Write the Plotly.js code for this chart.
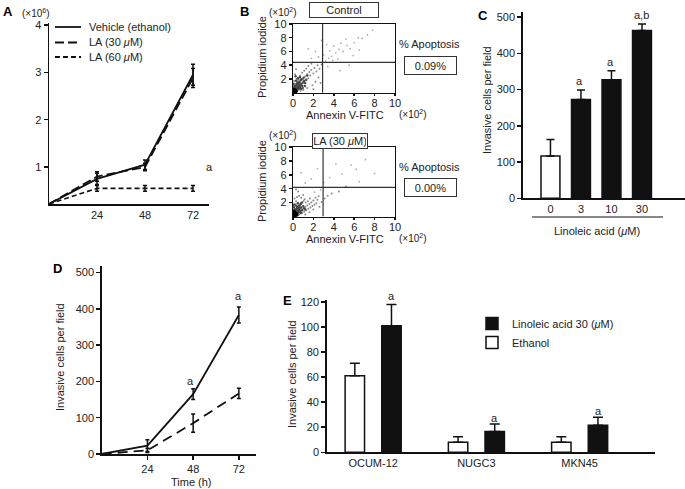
<!DOCTYPE html>
<html><head><meta charset="utf-8">
<script src="https://cdn.plot.ly/plotly-3.0.1.min.js"></script>
<style>html,body{margin:0;padding:0;background:#fff}#chart{width:685px;height:489px}</style>
</head><body><div id="chart"></div>
<script>
// ---------- Panel A: cell number (x10^6) ----------
const hoursA = [0, 24, 48, 72];
const vehicleA = [0.22, 0.75, 1.05, 2.95];
const vehicleErrA = [0, 0.12, 0.1, 0.22];
const la30A = [0.22, 0.8, 1.0, 2.88];
const la30ErrA = [0, 0.1, 0.08, 0.2];
const la60A = [0.22, 0.55, 0.55, 0.55];
const la60ErrA = [0, 0.06, 0.06, 0.06];
const namesA = ['Vehicle (ethanol)', 'LA (30 <i>μ</i>M)', 'LA (60 <i>μ</i>M)'];

// ---------- Panel B: flow cytometry (x10^2) ----------
const ctrlX = [0.05,0.1,0.15,0.2,0.08,0.25,0.3,0.12,0.35,0.4,0.18,0.45,0.5,0.22,0.55,0.6,0.3,0.65,0.7,0.4,0.8,0.85,0.5,0.9,1.0,0.6,1.1,1.2,0.7,1.3,1.4,0.9,1.5,1.6,1.1,1.7,1.8,1.3,2.0,2.1,1.5,2.3,2.4,1.8,2.6,2.8,0.2,0.3,1.0,1.4,1.9,2.2,2.5,0.1,0.75,1.2,0.05,0.35,2.0,2.7];
const ctrlY = [0.1,0.2,0.05,0.3,0.4,0.15,0.5,0.6,0.25,0.7,0.8,0.4,0.9,1.0,0.6,1.2,1.3,0.8,1.5,1.6,1.0,1.8,1.9,1.3,2.0,2.2,1.5,2.4,2.5,1.8,2.7,2.9,2.1,3.0,3.2,2.5,3.3,3.5,2.8,3.6,3.9,3.1,4.0,4.2,3.5,4.1,2.7,3.4,0.4,0.7,1.1,1.6,2.2,1.7,0.3,0.9,0.7,2.0,0.5,1.4];
const ctrlSparseX = [3.2,3.5,3.0,3.8,4.2,3.6,4.5,4.9,4.0,5.3,5.6,4.7,6.0,5.2,6.4,3.3,2.5,2.2,1.8,5.9,6.8,7.3,4.4,3.9,1.5,2.8,6.5,7.8,3.4,4.6,5.5,2.9];
const ctrlSparseY = [4.6,5.0,5.5,5.3,5.8,6.1,6.3,6.0,6.8,6.9,6.4,7.2,7.3,7.8,8.0,7.0,5.2,6.0,5.0,5.4,7.9,8.4,4.9,4.7,6.4,7.6,6.2,9.1,3.8,3.2,4.0,4.4];
const ctrlDenseX = [0.05,0.1,0.15,0.08,0.2,0.12,0.25,0.05,0.18,0.3,0.1,0.22,0.35,0.4,0.28,0.45,0.5,0.15,0.55,0.6,0.32,0.65,0.7,0.42,0.8,0.9,0.5,1.0,0.62,1.1,0.75,1.2,0.85,1.3,0.2,0.38,0.58,0.78,0.95,0.1,0.3,0.48,0.68,0.05,0.25,1.05,1.4,1.15];
const ctrlDenseY = [0.05,0.1,0.15,0.2,0.08,0.3,0.12,0.35,0.25,0.2,0.45,0.4,0.55,0.3,0.65,0.5,0.75,0.7,0.9,0.6,0.95,1.1,0.8,1.2,1.3,1.0,1.45,1.5,1.6,1.7,1.85,1.4,2.0,1.9,1.05,1.35,1.25,0.55,0.7,0.9,1.75,2.1,2.3,1.3,2.4,2.2,2.5,1.0];
const ctrlCoreX = [0.05,0.1,0.15,0.08,0.2,0.12,0.25,0.05,0.18,0.3,0.1,0.22];
const ctrlCoreY = [0.05,0.1,0.15,0.2,0.08,0.3,0.12,0.35,0.25,0.2,0.45,0.4];
const laX = [0.05,0.1,0.2,0.15,0.3,0.25,0.4,0.35,0.5,0.45,0.6,0.55,0.7,0.65,0.8,0.75,0.9,0.85,1.0,0.95,1.1,1.05,1.2,1.15,1.3,1.25,1.4,1.5,1.45,1.6,1.7,1.65,1.8,1.9,2.0,2.1,2.2,2.3,2.4,2.5,0.1,0.2,0.3,0.15,0.4,0.6,0.8,1.0,1.2,1.6,2.0,2.6,2.8,3.1,3.4,3.8,4.5,5.2,0.5,0.3];
const laY = [0.1,0.3,0.1,0.5,0.2,0.7,0.4,0.9,0.6,1.1,0.3,1.3,0.8,1.5,1.0,1.7,0.5,1.9,1.2,2.1,0.7,2.3,1.4,2.5,0.9,2.0,1.6,1.1,2.2,1.8,1.3,2.6,2.0,1.5,2.3,1.7,2.7,1.9,2.4,2.9,1.4,1.8,2.2,2.6,2.8,3.0,2.7,3.1,0.3,0.6,1.0,1.4,2.1,2.6,3.0,3.3,3.6,4.3,3.6,3.9];
const laSparseX = [1.2,1.8,0.8,2.4,3.6,4.8,6.2,5.7,7.1,3.0,6.5,4.2,8.0,2.1,2.7];
const laSparseY = [4.8,5.4,6.3,6.9,5.6,6.1,6.8,7.4,8.2,4.9,5.0,7.6,6.2,3.5,3.8];
const laDenseX = [0.05,0.1,0.15,0.08,0.2,0.12,0.25,0.05,0.18,0.3,0.1,0.22,0.35,0.4,0.28,0.45,0.5,0.15,0.55,0.6,0.32,0.65,0.7,0.42,0.8,0.9,0.5,1.0,0.62,1.1,0.75,1.2,0.85,0.2,0.38,0.58,0.78,0.1,0.3,0.48,0.05,0.25,0.15,0.35,0.08,0.45];
const laDenseY = [0.05,0.1,0.2,0.3,0.08,0.4,0.15,0.5,0.3,0.2,0.6,0.45,0.55,0.3,0.7,0.5,0.8,0.85,0.95,0.6,1.0,1.1,0.75,1.2,1.3,0.9,1.4,1.5,1.6,1.2,1.8,1.0,2.0,1.05,1.35,1.25,0.5,1.3,1.6,1.9,0.9,0.25,0.05,0.1,1.7,0.15];
const laCoreX = [0.05,0.1,0.15,0.08,0.2,0.12,0.25,0.05,0.18,0.3,0.1,0.22,0.35,0.15];
const laCoreY = [0.05,0.1,0.15,0.25,0.08,0.35,0.18,0.45,0.3,0.2,0.6,0.5,0.4,0.7];
const gateCtrl = [2.9, 4.4];
const gateLA = [2.95, 4.2];
const apoptosis = ['0.09%', '0.00%'];

// ---------- Panel C: invasion vs LA dose ----------
const dosesC = ['0', '3', '10', '30'];
const invC = [117, 273, 327, 463];
const errC = [45, 26, 25, 18];

// ---------- Panel D: invasion time course ----------
const hoursD = [0, 24, 48, 72];
const laD = [0, 23, 165, 383];
const laErrD = [0, 16, 15, 22];
const ethD = [0, 10, 85, 167];
const ethErrD = [0, 6, 25, 14];

// ---------- Panel E: cell lines ----------
const cellsE = ['OCUM-12', 'NUGC3', 'MKN45'];
const ethE = [61, 8, 8];
const ethErrE = [10, 4.5, 4.5];
const laE = [101, 16.5, 21.5];
const laErrE = [17, 6, 6.5];

// ---------- helpers ----------
const W = 685, H = 489;
const X = p => p / W;
const Y = p => 1 - p / H;
const INK = '#111';
const FONT = 'Liberation Sans, Arial, Helvetica, sans-serif';
function ax(extra) {
  return Object.assign({showline:true, linecolor:INK, linewidth:1.5, showgrid:false, zeroline:false,
    ticks:'outside', ticklen:4, tickwidth:1.5, tickcolor:INK, tickfont:{size:11, color:'#222'},
    fixedrange:true}, extra);
}
function T(text, x, y, o) {
  return Object.assign({text:text, x:X(x), y:Y(y), xref:'paper', yref:'paper', showarrow:false,
    xanchor:'center', yanchor:'middle', font:{size:11, color:'#222'}}, o || {});
}
function err(arr, w, minus) {
  const e = {type:'data', array:arr, color:INK, thickness:1.5, width:w, visible:true};
  if (minus) { e.symmetric = false; e.arrayminus = minus; }
  return e;
}
const zeros = n => Array(n).fill(0);
const dashesA = ['solid', '9px,4px', '5px,3px'];

function scatterSet(xa, ya, sx, sy, cx, cy, dx, dy, kx, ky) {
  return [
    {x:sx, y:sy, xaxis:xa, yaxis:ya, mode:'markers', showlegend:false, marker:{size:1.8, color:'#b0b0b0'}},
    {x:cx, y:cy, xaxis:xa, yaxis:ya, mode:'markers', showlegend:false, marker:{size:2, color:'#8c8c8c'}},
    {x:dx, y:dy, xaxis:xa, yaxis:ya, mode:'markers', showlegend:false, marker:{size:2.4, color:'#444'}},
    {x:kx, y:ky, xaxis:xa, yaxis:ya, mode:'markers', showlegend:false, marker:{size:3.4, color:'#000'}}
  ];
}

const traces = [
  // Panel A
  {x:hoursA, y:vehicleA, xaxis:'x', yaxis:'y', mode:'lines', name:namesA[0], showlegend:false,
   line:{color:INK, width:1.8, dash:dashesA[0]}, error_y:err(vehicleErrA, 2)},
  {x:hoursA, y:la30A, xaxis:'x', yaxis:'y', mode:'lines', name:namesA[1], showlegend:false,
   line:{color:INK, width:1.8, dash:dashesA[1]}, error_y:err(la30ErrA, 2)},
  {x:hoursA, y:la60A, xaxis:'x', yaxis:'y', mode:'lines', name:namesA[2], showlegend:false,
   line:{color:INK, width:1.6, dash:dashesA[2]}, error_y:err(la60ErrA, 2)},
  // Panel B
  ...scatterSet('x2', 'y2', ctrlSparseX, ctrlSparseY, ctrlX, ctrlY, ctrlDenseX, ctrlDenseY, ctrlCoreX, ctrlCoreY),
  ...scatterSet('x3', 'y3', laSparseX, laSparseY, laX, laY, laDenseX, laDenseY, laCoreX, laCoreY),
  // Panel C
  {type:'bar', x:dosesC, y:invC, xaxis:'x4', yaxis:'y4', showlegend:false, width:0.62,
   marker:{color:['#fff', INK, INK, INK], line:{color:INK, width:1.5}},
   error_y:err(errC, 4, zeros(4))},
  // Panel D
  {x:hoursD, y:laD, xaxis:'x5', yaxis:'y5', mode:'lines', showlegend:false,
   line:{color:INK, width:1.8}, error_y:err(laErrD, 2)},
  {x:hoursD, y:ethD, xaxis:'x5', yaxis:'y5', mode:'lines', showlegend:false,
   line:{color:INK, width:1.8, dash:'10px,6px'}, error_y:err(ethErrD, 2)},
  // Panel E
  {type:'bar', x:cellsE, y:ethE, xaxis:'x6', yaxis:'y6', name:'Ethanol', legend:'legend2',
   marker:{color:'#fff', line:{color:INK, width:1.5}}, error_y:err(ethErrE, 5, zeros(3))},
  {type:'bar', x:cellsE, y:laE, xaxis:'x6', yaxis:'y6', name:'Linoleic acid 30 (<i>μ</i>M)', legend:'legend2',
   marker:{color:INK, line:{color:INK, width:1.5}}, error_y:err(laErrE, 5, zeros(3))}
];

// Panel A legend (key drawn next to the plot)
const legendRowsA = [27, 42.5, 57];
const annotations = [
  // Panel A
  T('<b>A</b>', 8, 12, {font:{size:13, color:'#000'}}),
  T('(×10<sup>6</sup>)', 36, 13, {font:{size:10, color:'#222'}}),
  T('a', 209, 167),
  ...namesA.map((n, i) => T(n, 87, legendRowsA[i], {xanchor:'left'})),
  // Panel B
  T('<b>B</b>', 244, 12, {font:{size:13, color:'#000'}}),
  T('(×10<sup>2</sup>)', 283, 12, {font:{size:10, color:'#222'}}),
  T('(×10<sup>2</sup>)', 283, 135, {font:{size:10, color:'#222'}}),
  T('Control', 344, 10, {bordercolor:'#333', borderwidth:1, borderpad:1, width:66, height:12, bgcolor:'#fff'}),
  T('LA (30 <i>μ</i>M)', 340, 141, {bordercolor:'#333', borderwidth:1, borderpad:1, width:52, height:12, bgcolor:'#fff'}),
  T('Propidium iodide', 262, 57, {textangle:-90}),
  T('Propidium iodide', 262, 181, {textangle:-90}),
  T('Annexin V-FITC', 345, 115),
  T('Annexin V-FITC', 345, 239),
  T('(×10<sup>2</sup>)', 413, 114, {font:{size:10, color:'#222'}}),
  T('(×10<sup>2</sup>)', 413, 238, {font:{size:10, color:'#222'}}),
  T('% Apoptosis', 429, 44),
  T('% Apoptosis', 429, 167),
  T(apoptosis[0], 430.5, 65, {bordercolor:'#333', borderwidth:1, borderpad:1, width:49, height:15}),
  T(apoptosis[1], 430.5, 187, {bordercolor:'#333', borderwidth:1, borderpad:1, width:49, height:15}),
  // Panel C
  T('<b>C</b>', 483, 15, {font:{size:13, color:'#000'}}),
  T('a', 579, 81), T('a', 610, 62), T('a,b', 641.7, 15),
  T('Invasive cells per field', 487, 100, {textangle:-90}),
  T('Linoleic acid (<i>μ</i>M)', 597, 231),
  // Panel D
  T('<b>D</b>', 57, 268, {font:{size:13, color:'#000'}}),
  T('Invasive cells per field', 60, 357, {textangle:-90}),
  T('Time (h)', 191, 482),
  T('a', 190, 381), T('a', 238, 296),
  // Panel E
  T('<b>E</b>', 287, 300, {font:{size:13, color:'#000'}}),
  T('Invasive cells per field', 292, 374, {textangle:-90}),
  T('a', 391.3, 296), T('a', 494.7, 418), T('a', 598, 411)
];

const shapes = [
  ...legendRowsA.map((r, i) => ({type:'line', xref:'paper', yref:'paper', x0:X(55), x1:X(81), y0:Y(r), y1:Y(r),
    line:{color:INK, width:1.8, dash:dashesA[i]}})),
  {type:'line', xref:'paper', yref:'paper', x0:X(532), x1:X(663), y0:Y(217), y1:Y(217), line:{color:INK, width:1.2}},
  {type:'line', xref:'x2', yref:'y2', x0:gateCtrl[0], x1:gateCtrl[0], y0:0, y1:10, line:{color:'#333', width:1.2}},
  {type:'line', xref:'x2', yref:'y2', x0:0, x1:10, y0:gateCtrl[1], y1:gateCtrl[1], line:{color:'#333', width:1.2}},
  {type:'line', xref:'x3', yref:'y3', x0:gateLA[0], x1:gateLA[0], y0:0, y1:10, line:{color:'#333', width:1.2}},
  {type:'line', xref:'x3', yref:'y3', x0:0, x1:10, y0:gateLA[1], y1:gateLA[1], line:{color:'#333', width:1.2}}
];

const layout = {
  width:W, height:H, margin:{l:0, r:0, t:0, b:0}, paper_bgcolor:'#fff', plot_bgcolor:'rgba(0,0,0,0)',
  font:{family:FONT, size:11, color:'#222'},
  barmode:'group', bargap:0.29, bargroupgap:0.47,
  showlegend:true,
  legend2:{x:X(472), y:Y(309), xanchor:'left', yanchor:'top', bgcolor:'rgba(0,0,0,0)', font:{size:11, color:'#222'}, traceorder:'reversed', itemwidth:30},
  xaxis: ax({domain:[X(49), X(209)], range:[0, 80], tickvals:[24,48,72], ticks:'', anchor:'y'}),
  yaxis: ax({domain:[Y(204), Y(22.7)], range:[0.22, 4.05], tickvals:[1,2,3,4], anchor:'x'}),
  xaxis2: ax({domain:[X(293), X(395)], range:[0,10], tickvals:[0,2,4,6,8,10], mirror:true, ticklen:2, ticklabelstandoff:-2, anchor:'y2', linewidth:1.2}),
  yaxis2: ax({domain:[Y(92.7), Y(24)], range:[0,10], tickvals:[2,4,6,8,10], mirror:true, ticklen:3, anchor:'x2', linewidth:1.2}),
  xaxis3: ax({domain:[X(293), X(395)], range:[0,10], tickvals:[0,2,4,6,8,10], mirror:true, ticklen:2, ticklabelstandoff:-2, anchor:'y3', linewidth:1.2}),
  yaxis3: ax({domain:[Y(216.5), Y(147)], range:[0,10], tickvals:[2,4,6,8,10], mirror:true, ticklen:3, anchor:'x3', linewidth:1.2}),
  xaxis4: ax({domain:[X(522.7), 1], type:'category', range:[-0.91, 4.41], ticks:'', anchor:'y4'}),
  yaxis4: ax({domain:[Y(198.3), Y(11.7)], range:[0, 515], tickvals:[0,100,200,300,400,500], anchor:'x4'}),
  xaxis5: ax({domain:[X(101.7), X(256)], range:[0, 81], tickvals:[24,48,72], anchor:'y5'}),
  yaxis5: ax({domain:[Y(454), Y(266)], range:[0, 518], tickvals:[0,100,200,300,400,500], anchor:'x5'}),
  xaxis6: ax({domain:[X(326.7), X(655)], type:'category', range:[-0.45, 2.73], ticks:'', anchor:'y6'}),
  yaxis6: ax({domain:[Y(452.3), Y(300)], range:[0, 121.5], tickvals:[0,20,40,60,80,100,120], anchor:'x6'}),
  annotations:annotations, shapes:shapes
};

Plotly.newPlot('chart', traces, layout, {displayModeBar:false, staticPlot:true});
</script>
</body></html>
